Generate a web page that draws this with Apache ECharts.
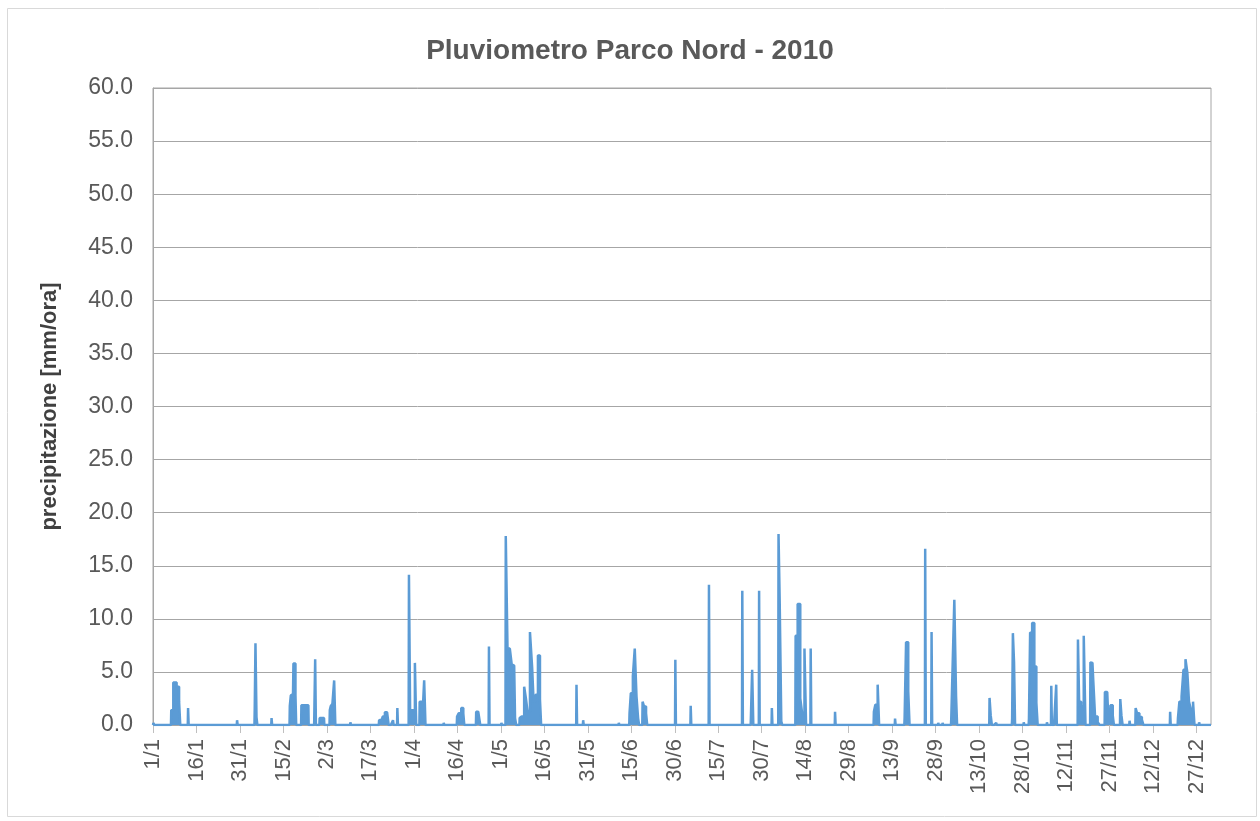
<!DOCTYPE html>
<html>

<head>
    <meta charset="utf-8" />
    <script src="https://cdn.jsdelivr.net/npm/echarts@6/dist/echarts.min.js"></script>
</head>

<body>
    <style>
        html,
        body {
            margin: 0;
            height: 100%;
            background: #fff;
        }

        #main {
            width: 1260px;
            height: 821px;
        }
    </style>
    <div id="main"></div>

    <script type="text/javascript">
        // tick labels, one every 15 days starting on 1 January
        const tickLabels = ['1/1', '16/1', '31/1', '15/2', '2/3', '17/3', '1/4', '16/4', '1/5', '16/5', '31/5',
            '15/6', '30/6', '15/7', '30/7', '14/8', '29/8', '13/9', '28/9', '13/10', '28/10', '12/11',
            '27/11', '12/12', '27/12'];

        // rain events: day of year (0 = 1 Jan, fractional) and intensity in mm/ora
        const rainDay = [
            0.3, 6.4, 7.6, 8.7, 9.3, 12.2, 29.1, 35.2, 35.5, 35.9, 41.0,
            47.3, 47.8, 48.3, 48.6, 49.0, 49.3, 51.3, 52.4, 53.6, 55.8, 56.1, 57.6, 58.3, 59.0,
            61.1, 61.6, 62.2, 62.8, 68.2, 78.1, 78.9, 79.7, 80.3, 81.2, 82.9, 84.4,
            88.4, 89.0, 90.0, 90.7, 92.1, 93.2, 93.9, 100.4, 105.0, 105.9, 106.8, 107.3, 111.6, 112.8,
            116.0, 120.3, 121.8, 122.8, 123.4, 124.1, 124.6, 125.2, 126.6, 127.2, 127.7,
            128.4, 128.9, 129.5, 130.6, 131.0, 131.6, 132.4, 133.2, 133.8, 146.2, 148.5, 160.8,
            164.5, 165.2, 165.9, 166.5, 167.1, 167.6, 169.0, 169.8, 170.4, 180.3, 185.6, 191.9,
            203.4, 206.4, 207.0, 209.2, 213.6, 215.9, 216.5, 217.0, 221.8, 223.0, 223.6, 224.3,
            225.2, 227.0, 235.4, 248.8, 249.6, 250.4, 256.1, 259.4, 260.2, 260.9, 266.5, 268.7,
            271.0, 272.5, 275.5, 276.1, 276.8, 277.3, 288.7, 289.3, 291.0, 296.5, 296.8, 297.3,
            300.5, 302.3, 302.9, 303.7, 304.4, 305.1, 308.5, 310.0, 311.7, 319.2, 319.8, 320.6,
            321.6, 323.5, 324.1, 324.7, 325.3, 326.5, 328.5, 329.2, 329.8, 330.8, 331.4, 333.8,
            334.4, 337.0, 339.1, 339.9, 340.7, 341.6, 351.0, 353.7, 354.5, 355.2, 355.8, 356.6,
            357.1, 357.7, 358.4, 359.2, 361.0
        ];
        const rainMm = [
            0.2, 1.4, 4.0, 3.6, 2.2, 1.6, 0.45, 1.6, 7.7, 0.75, 0.65,
            1.8, 2.8, 2.9, 5.8, 5.8, 2.8, 1.85, 1.85, 1.85, 1.9, 6.2, 0.65, 0.65, 0.65,
            1.4, 1.8, 2.0, 4.2, 0.25, 0.45, 0.5, 0.8, 1.2, 1.25, 0.45, 1.6,
            14.15, 1.4, 1.4, 5.85, 2.2, 2.2, 4.2, 0.2, 0.8, 1.1, 1.6, 1.1, 1.25, 1.25,
            7.4, 0.2, 17.8, 7.2, 7.2, 5.7, 5.6, 0.65, 0.65, 0.8, 0.8,
            3.6, 2.5, 1.3, 8.75, 5.4, 2.2, 2.85, 6.55, 2.4, 3.8, 0.45, 0.2,
            1.1, 3.0, 4.6, 7.2, 2.7, 0.65, 2.2, 1.75, 1.1, 6.15, 1.8, 13.2,
            12.65, 1.0, 5.2, 12.65, 1.6, 18.0, 11.65, 0.35, 8.4, 11.4, 2.5, 1.1,
            7.2, 7.2, 1.25, 1.25, 1.9, 3.8, 0.6, 0.65, 7.8, 3.2, 16.6, 8.75,
            0.2, 0.2, 0.65, 4.9, 11.8, 2.7, 2.55, 0.9, 0.2, 0.65, 8.65, 5.9,
            0.25, 0.65, 8.7, 9.6, 5.5, 2.1, 0.25, 3.7, 3.8, 8.05, 2.2, 1.75,
            8.4, 5.9, 5.85, 4.1, 0.8, 0.25, 3.1, 3.1, 1.1, 1.85, 0.9, 2.45,
            0.9, 0.4, 1.6, 1.1, 0.75, 0.5, 1.25, 0.65, 2.2, 2.7, 5.2, 6.2,
            4.9, 2.2, 1.45, 2.2, 0.25
        ];

        // dry spells between events sit on zero
        const series = [[0, 0]];
        for (let i = 0; i < rainDay.length; i++) {
            const prev = series[series.length - 1][0];
            if (rainDay[i] - prev > 1.3) {
                series.push([prev + 0.2, 0]);
                series.push([rainDay[i] - 0.2, 0]);
            }
            series.push([rainDay[i], rainMm[i]]);
        }
        series.push([series[series.length - 1][0] + 0.2, 0]);
        series.push([365, 0]);

        var chart = echarts.init(document.getElementById('main'), null, { renderer: 'canvas' });
        chart.setOption({
            animation: false,
            textStyle: {
                fontFamily: 'Liberation Sans, Arial, sans-serif',
            },
            title: {
                text: 'Pluviometro Parco Nord - 2010',
                left: 'center',
                top: 32,
                textStyle: {
                    fontSize: 28,
                    fontWeight: 'bold',
                    color: '#595959',
                },
            },
            graphic: [
                {
                    type: 'rect',
                    left: 5,
                    top: 6,
                    shape: { width: 1249, height: 808 },
                    style: { fill: 'none', stroke: '#d9d9d9', lineWidth: 1 },
                    silent: true,
                }
            ],
            grid: {
                left: 153,
                right: 49,
                top: 88,
                bottom: 96,
                show: true,
                borderColor: '#a6a6a6',
                borderWidth: 1,
            },
            xAxis: {
                type: 'value',
                min: 0,
                max: 365,
                interval: 15,
                splitLine: { show: false },
                axisLine: { show: false },
                axisTick: {
                    show: true,
                    length: 8,
                    lineStyle: { color: '#bfbfbf' },
                },
                axisLabel: {
                    rotate: 90,
                    margin: 14,
                    fontSize: 22,
                    color: '#595959',
                    showMaxLabel: false,
                    formatter: (v) => (v % 15 === 0 && tickLabels[v / 15]) || '',
                },
            },
            yAxis: {
                type: 'value',
                min: 0,
                max: 60,
                interval: 5,
                name: 'precipitazione [mm/ora]',
                nameLocation: 'middle',
                nameGap: 92,
                nameTextStyle: {
                    fontSize: 22,
                    fontWeight: 'bold',
                    color: '#404040',
                },
                axisLine: { show: true, lineStyle: { color: '#a6a6a6' } },
                axisTick: { show: false },
                splitLine: { lineStyle: { color: '#a6a6a6', width: 1 } },
                axisLabel: {
                    margin: 20,
                    fontSize: 23,
                    color: '#595959',
                    formatter: (v) => v.toFixed(1),
                },
            },
            series: [
                {
                    type: 'line',
                    step: 'middle',
                    data: series,
                    showSymbol: false,
                    lineStyle: { color: '#5b9bd5', width: 2.5 },
                    areaStyle: { color: '#5b9bd5', opacity: 1 },
                    itemStyle: { color: '#5b9bd5' },
                },
            ],
        });
    </script>
</body>

</html>
